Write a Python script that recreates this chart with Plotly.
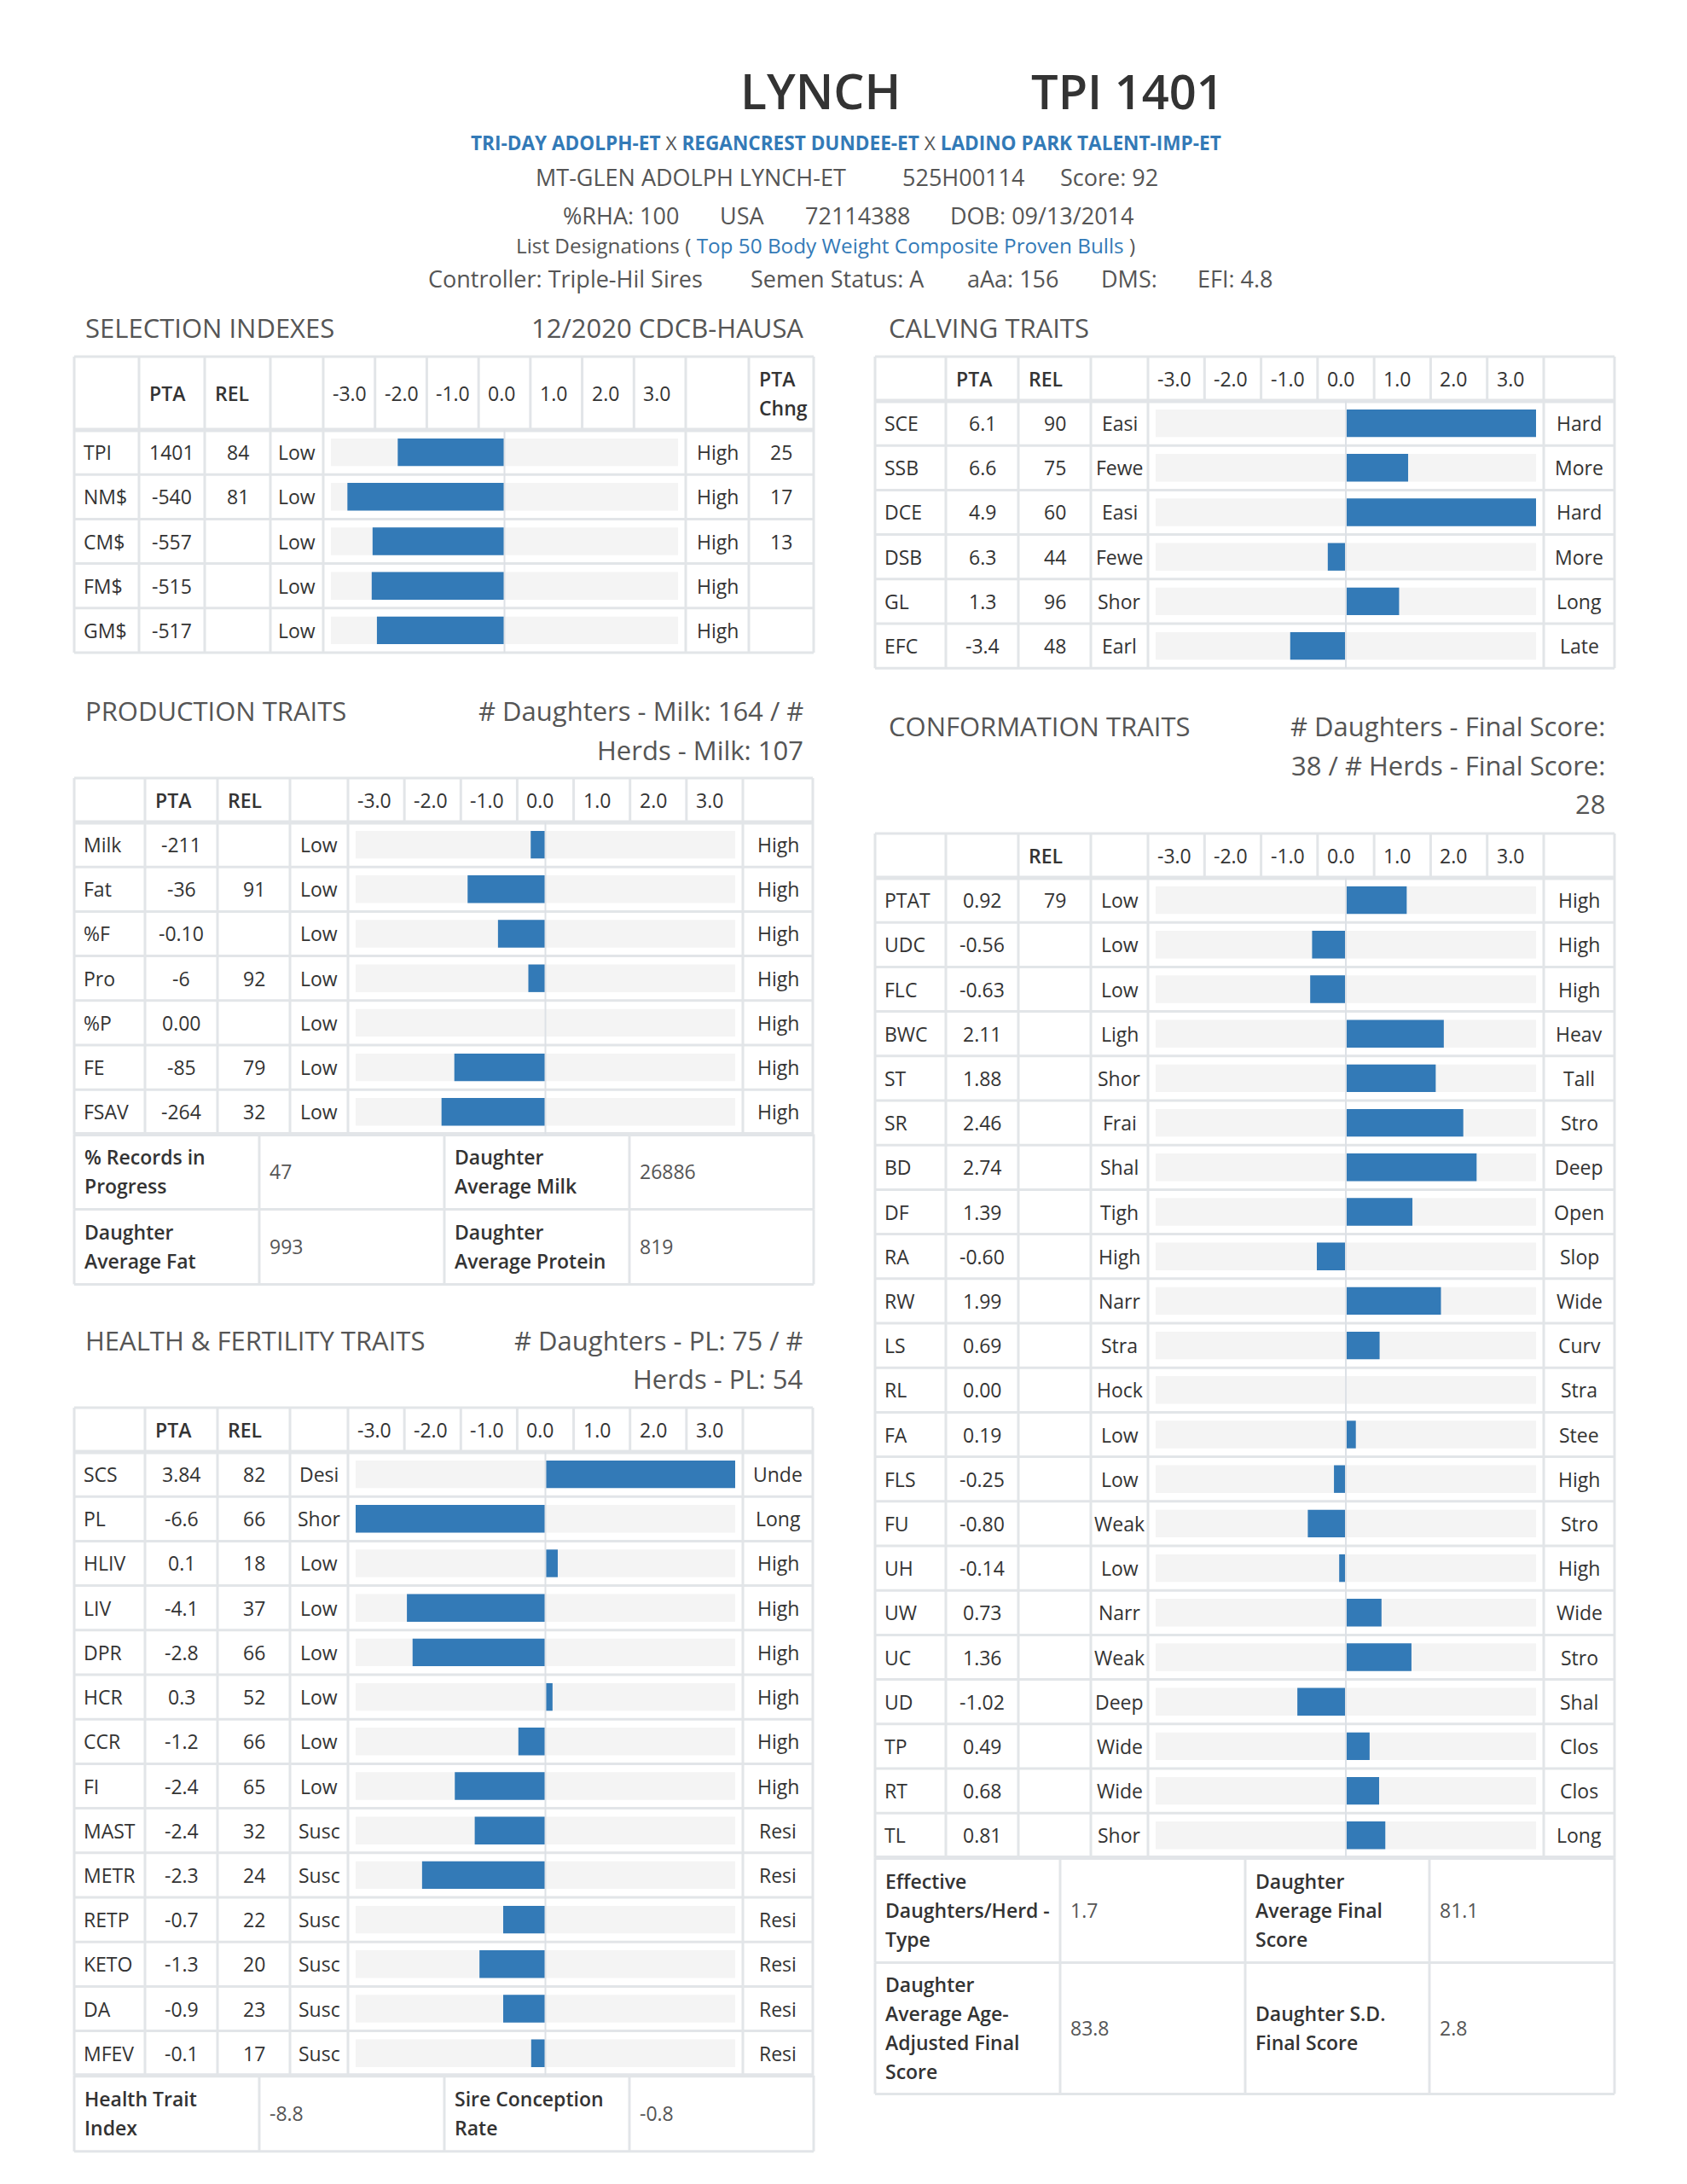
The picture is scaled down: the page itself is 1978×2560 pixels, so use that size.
import plotly.graph_objects as go

# ---------------- DATA ----------------
tick_labels = ["-3.0", "-2.0", "-1.0", "0.0", "1.0", "2.0", "3.0"]

sel_traits = ["TPI", "NM$", "CM$", "FM$", "GM$"]
sel_pta = ["1401", "-540", "-557", "-515", "-517"]
sel_rel = ["84", "81", "", "", ""]
sel_low = ["Low", "Low", "Low", "Low", "Low"]
sel_high = ["High", "High", "High", "High", "High"]
sel_chng = ["25", "17", "13", "", ""]
sel_bar = [-2.46, -3.62, -3.04, -3.06, -2.94]

calv_traits = ["SCE", "SSB", "DCE", "DSB", "GL", "EFC"]
calv_pta = ["6.1", "6.6", "4.9", "6.3", "1.3", "-3.4"]
calv_rel = ["90", "75", "60", "44", "96", "48"]
calv_low = ["Easi", "Fewe", "Easi", "Fewe", "Shor", "Earl"]
calv_high = ["Hard", "More", "Hard", "More", "Long", "Late"]
calv_bar = [4.0, 1.31, 4.0, -0.38, 1.12, -1.17]

prod_traits = ["Milk", "Fat", "%F", "Pro", "%P", "FE", "FSAV"]
prod_pta = ["-211", "-36", "-0.10", "-6", "0.00", "-85", "-264"]
prod_rel = ["", "91", "", "92", "", "79", "32"]
prod_low = ["Low", "Low", "Low", "Low", "Low", "Low", "Low"]
prod_high = ["High", "High", "High", "High", "High", "High", "High"]
prod_bar = [-0.31, -1.64, -1.0, -0.36, 0.0, -1.92, -2.19]
prod_extra_labels = ["% Records in\nProgress", "Daughter\nAverage Milk", "Daughter\nAverage Fat", "Daughter\nAverage Protein"]
prod_extra_values = ["47", "26886", "993", "819"]

health_traits = ["SCS", "PL", "HLIV", "LIV", "DPR", "HCR", "CCR", "FI", "MAST", "METR", "RETP", "KETO", "DA", "MFEV"]
health_pta = ["3.84", "-6.6", "0.1", "-4.1", "-2.8", "0.3", "-1.2", "-2.4", "-2.4", "-2.3", "-0.7", "-1.3", "-0.9", "-0.1"]
health_rel = ["82", "66", "18", "37", "66", "52", "66", "65", "32", "24", "22", "20", "23", "17"]
health_low = ["Desi", "Shor", "Low", "Low", "Low", "Low", "Low", "Low", "Susc", "Susc", "Susc", "Susc", "Susc", "Susc"]
health_high = ["Unde", "Long", "High", "High", "High", "High", "High", "High", "Resi", "Resi", "Resi", "Resi", "Resi", "Resi"]
health_bar = [4.0, -4.0, 0.26, -2.92, -2.80, 0.15, -0.57, -1.91, -1.49, -2.60, -0.89, -1.39, -0.89, -0.30]
health_extra_labels = ["Health Trait\nIndex", "Sire Conception\nRate"]
health_extra_values = ["-8.8", "-0.8"]

conf_traits = ["PTAT", "UDC", "FLC", "BWC", "ST", "SR", "BD", "DF", "RA", "RW", "LS", "RL",
               "FA", "FLS", "FU", "UH", "UW", "UC", "UD", "TP", "RT", "TL"]
conf_pta = ["0.92", "-0.56", "-0.63", "2.11", "1.88", "2.46", "2.74", "1.39", "-0.60", "1.99", "0.69", "0.00",
            "0.19", "-0.25", "-0.80", "-0.14", "0.73", "1.36", "-1.02", "0.49", "0.68", "0.81"]
conf_rel = ["79"] + [""] * 21
conf_low = ["Low", "Low", "Low", "Ligh", "Shor", "Frai", "Shal", "Tigh", "High", "Narr", "Stra", "Hock",
            "Low", "Low", "Weak", "Low", "Narr", "Weak", "Deep", "Wide", "Wide", "Shor"]
conf_high = ["High", "High", "High", "Heav", "Tall", "Stro", "Deep", "Open", "Slop", "Wide", "Curv", "Stra",
             "Stee", "High", "Stro", "High", "Wide", "Stro", "Shal", "Clos", "Clos", "Long"]
conf_bar = [1.28, -0.71, -0.75, 2.06, 1.89, 2.47, 2.75, 1.40, -0.61, 2.00, 0.71, 0.0,
            0.21, -0.25, -0.80, -0.14, 0.75, 1.38, -1.02, 0.50, 0.70, 0.83]
conf_extra_labels = ["Effective\nDaughters/Herd -\nType", "Daughter\nAverage Final\nScore",
                     "Daughter\nAverage Age-\nAdjusted Final\nScore", "Daughter S.D.\nFinal Score"]
conf_extra_values = ["1.7", "81.1", "83.8", "2.8"]

# ---------------- LAYOUT HELPERS ----------------
W, H = 1978, 2560
OFF = 8                      # default page margin of the html body
FW, FH = W - 2 * OFF, H - 2 * OFF
RH = 52.2
BORDER = "#e2e5e8"
TXT = "#333333"
GRAY = "#555555"
BLUE = "#337ab7"
FONT = "Open Sans"

shapes, ann = [], []
fig = go.Figure()


def P(x):
    return (x - OFF) / FW


def Q(y):
    return 1 - (y - OFF) / FH


def txt(x, y, s, size=23, color=TXT, xa="left", weight="normal"):
    ann.append(dict(x=P(x), y=Q(y), xref="paper", yref="paper", text=s, showarrow=False,
                    xanchor=xa, yanchor="middle",
                    font=dict(family=FONT, size=size, color=color, weight=weight)))


def line(x0, y0, x1, y1, w=3, c=BORDER):
    shapes.append(dict(type="line", xref="paper", yref="paper", x0=P(x0), y0=Q(y0), x1=P(x1), y1=Q(y1),
                       line=dict(color=c, width=w), layer="below"))


def bar_table(k, left, bar_l, bar_r, right, top, hb, labels, pta, rel, low, high, bars,
              chng=None, pta_header="PTA"):
    n = len(labels)
    bottom = hb + n * RH
    edges = left + [bar_l, bar_r] + right
    tw = (bar_r - bar_l) / 7
    line(edges[0], top, edges[-1], top)
    line(edges[0], hb, edges[-1], hb, w=5)
    for i in range(1, n + 1):
        line(edges[0], hb + i * RH, edges[-1], hb + i * RH)
    for e in edges:
        line(e, top, e, bottom)
    for j in range(1, 7):
        line(bar_l + j * tw, top, bar_l + j * tw, hb)
    hc = (top + hb) / 2
    if pta_header:
        txt(left[1] + 10, hc, pta_header, weight=600)
    txt(left[2] + 10, hc, "REL", weight=600)
    for j, t in enumerate(tick_labels):
        txt(bar_l + j * tw + 9, hc, t)
    if chng is not None:
        txt(right[0] + 10, hc - 17, "PTA", weight=600)
        txt(right[0] + 10, hc + 17, "Chng", weight=600)
    for i in range(n):
        yc = hb + (i + 0.5) * RH
        txt(left[0] + 9, yc, labels[i])
        txt((left[1] + left[2]) / 2, yc, pta[i], xa="center")
        txt((left[2] + left[3]) / 2, yc, rel[i], xa="center")
        txt((left[3] + bar_l) / 2, yc, low[i], xa="center")
        txt((bar_r + right[0]) / 2, yc, high[i], xa="center")
        if chng is not None:
            txt((right[0] + right[1]) / 2, yc, chng[i], xa="center")
    xa = "xaxis" if k == 1 else "xaxis%d" % k
    ya = "yaxis" if k == 1 else "yaxis%d" % k
    xr = "x" if k == 1 else "x%d" % k
    yr = "y" if k == 1 else "y%d" % k
    idx = list(range(n))
    fig.add_trace(go.Bar(y=idx, x=[8] * n, base=[-4] * n, orientation="h", width=0.62,
                         marker=dict(color="#f4f4f4", line=dict(width=0)),
                         xaxis=xr, yaxis=yr, hoverinfo="skip"))
    fig.add_trace(go.Bar(y=idx, x=bars, orientation="h", width=0.62,
                         marker=dict(color=BLUE, line=dict(width=0)),
                         xaxis=xr, yaxis=yr, text=labels, hoverinfo="text+x", textposition="none"))
    layout_axes[xa] = dict(domain=[P(bar_l + 9), P(bar_r - 9)], range=[-4, 4], visible=False,
                           fixedrange=True, anchor=yr)
    layout_axes[ya] = dict(domain=[Q(bottom), Q(hb)], range=[n - 0.5, -0.5], visible=False,
                           fixedrange=True, anchor=xr)
    shapes.append(dict(type="line", xref=xr, yref="paper", x0=0, x1=0, y0=Q(bottom), y1=Q(hb),
                       line=dict(color="#dde1e6", width=2), layer="above"))
    return bottom


def extra_table(cols, rows, labels, values, ls=34, top_w=5):
    line(cols[0], rows[0][0], cols[-1], rows[0][0], w=top_w)
    for (t, b) in rows:
        line(cols[0], b, cols[-1], b)
        for c in cols:
            line(c, t, c, b)
    for r, (t, b) in enumerate(rows):
        yc = (t + b) / 2
        for c in range(2):
            i = r * 2 + c
            parts = labels[i].split("\n")
            m = len(parts)
            for j, p in enumerate(parts):
                txt(cols[2 * c] + 10, yc + (j - (m - 1) / 2) * ls, p, weight=600)
            txt(cols[2 * c + 1] + 10, yc, values[i], color=GRAY)


layout_axes = {}

# ---------------- HEADER ----------------
txt(962, 106, "LYNCH", size=57, xa="center", weight=600)
txt(1322, 106, "TPI 1401", size=56, xa="center", weight=600)
sire = ("<span style='color:%s'><b>TRI-DAY ADOLPH-ET</b></span> X "
        "<span style='color:%s'><b>REGANCREST DUNDEE-ET</b></span> X "
        "<span style='color:%s'><b>LADINO PARK TALENT-IMP-ET</b></span>") % (BLUE, BLUE, BLUE)
txt(992, 168, sire, size=22.6, color=GRAY, xa="center")
for s, cx in [("MT-GLEN ADOLPH LYNCH-ET", 810), ("525H00114", 1129), ("Score: 92", 1300)]:
    txt(cx, 208, s, size=27, color=GRAY, xa="center")
for s, cx in [("%RHA: 100", 728), ("USA", 870), ("72114388", 1006), ("DOB: 09/13/2014", 1221)]:
    txt(cx, 252, s, size=27, color=GRAY, xa="center")
txt(968, 287, "List Designations ( <span style='color:%s'>Top 50 Body Weight Composite Proven Bulls</span> )" % BLUE,
    size=24.3, color=GRAY, xa="center")
for s, cx in [("Controller: Triple-Hil Sires", 663), ("Semen Status: A", 982), ("aAa: 156", 1188),
              ("DMS:", 1324), ("EFI: 4.8", 1448)]:
    txt(cx, 327, s, size=27, color=GRAY, xa="center")

# ---------------- SECTION TITLES ----------------
TS = 31
txt(98, 384, "SELECTION INDEXES", size=TS, color=GRAY)
txt(944, 384, "12/2020 CDCB-HAUSA", size=TS, color=GRAY, xa="right")
txt(1040, 384, "CALVING TRAITS", size=TS, color=GRAY)
txt(98, 833, "PRODUCTION TRAITS", size=TS, color=GRAY)
txt(944, 833, "# Daughters - Milk: 164 / #", size=TS, color=GRAY, xa="right")
txt(944, 879, "Herds - Milk: 107", size=TS, color=GRAY, xa="right")
txt(98, 1571, "HEALTH &amp; FERTILITY TRAITS", size=TS, color=GRAY)
txt(944, 1571, "# Daughters - PL: 75 / #", size=TS, color=GRAY, xa="right")
txt(944, 1616, "Herds - PL: 54", size=TS, color=GRAY, xa="right")
txt(1040, 851, "CONFORMATION TRAITS", size=TS, color=GRAY)
txt(1884, 851, "# Daughters - Final Score:", size=TS, color=GRAY, xa="right")
txt(1884, 897, "38 / # Herds - Final Score:", size=TS, color=GRAY, xa="right")
txt(1884, 942, "28", size=TS, color=GRAY, xa="right")

# ---------------- TABLES ----------------
L_SEL = [87, 163, 240, 317]
L_STD = [87, 170, 255, 340]
R_STD = [1026, 1109, 1194, 1279]

bar_table(1, L_SEL, 379, 804, [878, 954], 418, 504, sel_traits, sel_pta, sel_rel, sel_low, sel_high,
          sel_bar, chng=sel_chng)
bar_table(2, R_STD, 1346, 1810, [1893], 418, 470, calv_traits, calv_pta, calv_rel, calv_low, calv_high,
          calv_bar)
pb = bar_table(3, L_STD, 408, 871, [953], 912, 964, prod_traits, prod_pta, prod_rel, prod_low, prod_high,
               prod_bar)
extra_table([87, 304, 521, 738, 954], [(pb, pb + 88), (pb + 88, pb + 176)], prod_extra_labels, prod_extra_values)
hbm = bar_table(4, L_STD, 408, 871, [953], 1650, 1702, health_traits, health_pta, health_rel, health_low,
                health_high, health_bar)
extra_table([87, 304, 521, 738, 954], [(hbm, hbm + 89)], health_extra_labels, health_extra_values)
cb = bar_table(5, R_STD, 1346, 1810, [1893], 977, 1029, conf_traits, conf_pta, conf_rel, conf_low, conf_high,
               conf_bar, pta_header="")
extra_table([1026, 1243, 1460, 1676, 1893], [(cb, cb + 123), (cb + 123, cb + 277)], conf_extra_labels,
            conf_extra_values)

fig.update_layout(width=FW, height=FH, margin=dict(l=0, r=0, t=0, b=0),
                  paper_bgcolor="white", plot_bgcolor="white", showlegend=False,
                  barmode="overlay", font=dict(family=FONT, color=TXT),
                  shapes=shapes, annotations=ann, **layout_axes)
fig.write_html("out.html")
